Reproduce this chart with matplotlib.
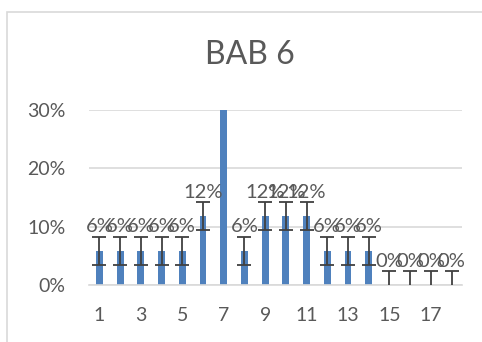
import matplotlib.pyplot as plt
from matplotlib.ticker import PercentFormatter
from matplotlib.patches import Rectangle

plt.rcParams['font.family'] = ['Lato', 'DejaVu Sans']

# BAB 6 item scores
items = list(range(1, 19))
shares = [0.059, 0.059, 0.059, 0.059, 0.059, 0.118, 0.35, 0.059, 0.118,
          0.118, 0.118, 0.059, 0.059, 0.059, 0.0, 0.0, 0.0, 0.0]
std_err = 0.024
x_ticks = [1, 3, 5, 7, 9, 11, 13, 15, 17]
y_ticks = [0, 0.1, 0.2, 0.3]

text_color = "#595959"
grid_color = "#d9d9d9"

fig = plt.figure(figsize=(4.82, 3.42), dpi=100)
ax = fig.add_axes([89 / 482, 1 - 285 / 342, 373 / 482, 175 / 342])

# outer chart frame
fig.patches.append(Rectangle((7 / 482, -0.1), 1.2, 1 - 12 / 342 + 0.1,
                             transform=fig.transFigure, fill=False,
                             edgecolor=grid_color, linewidth=1.2))

ax.bar(items, shares, width=0.33, color="#4F81BD", zorder=2)
ax.errorbar(items, shares, yerr=std_err, fmt="none", ecolor="#404040",
            elinewidth=1.3, capsize=4.7, capthick=1.3, zorder=3)

for x, v in zip(items, shares):
    ax.annotate(f"{v:.0%}", (x, v), xytext=(0, 17), textcoords="offset points",
                ha="center", va="center", fontsize=14.5, color=text_color,
                annotation_clip=True, zorder=4)

ax.set_xlim(0.5, 18.5)
ax.set_ylim(0, 0.3)
ax.set_xticks(x_ticks)
ax.set_yticks(y_ticks)
ax.yaxis.set_major_formatter(PercentFormatter(1.0, decimals=0))
ax.tick_params(length=0, labelsize=14, labelcolor=text_color)
ax.tick_params(axis="y", pad=17)
ax.tick_params(axis="x", pad=16)
ax.grid(axis="y", color=grid_color, linewidth=1.2, zorder=0)
for side in ["top", "right", "left"]:
    ax.spines[side].set_visible(False)
ax.spines["bottom"].set_color(grid_color)
ax.spines["bottom"].set_linewidth(1.2)

fig.text(250 / 482, 1 - 55.5 / 342, "BAB 6", ha="center", va="center",
         fontsize=23, color=text_color)

fig.savefig("out.png", dpi=100)
